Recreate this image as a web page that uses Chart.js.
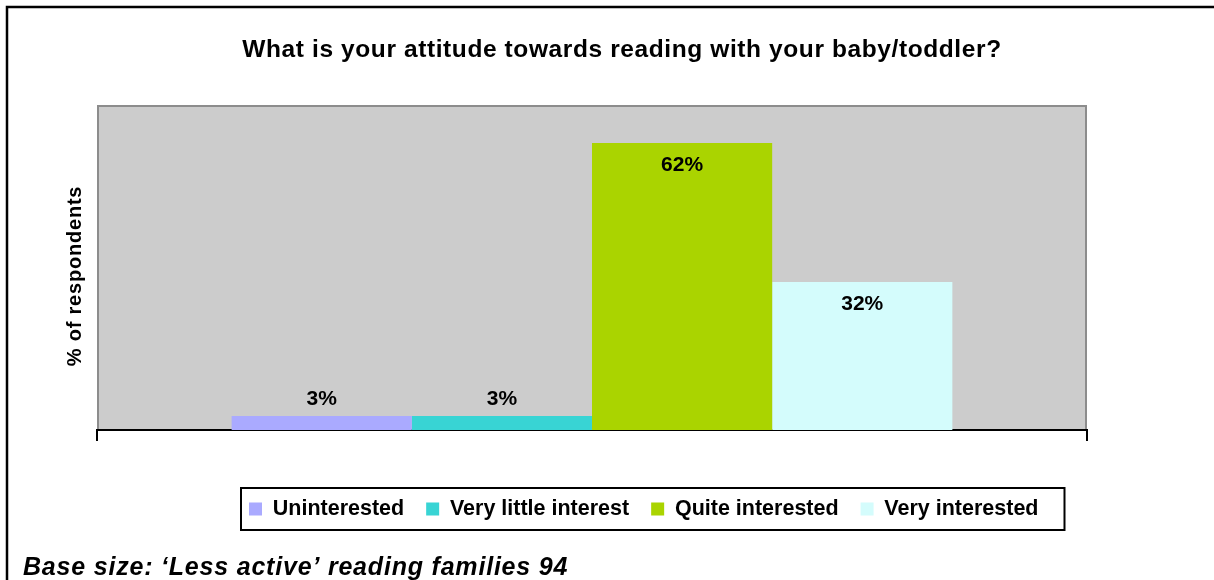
<!DOCTYPE html>
<html>
<head>
<meta charset="utf-8">
<script src="https://cdn.jsdelivr.net/npm/chart.js@4"></script>
<style>
  html, body { margin: 0; padding: 0; background: #ffffff; }
  canvas { display: block; }
</style>
</head>
<body>
<canvas id="chart" width="1214" height="580"></canvas>
<script>
// Survey answers, one bar per answer
const categories = [''];
const seriesNames = ['Uninterested', 'Very little interest', 'Quite interested', 'Very interested'];
const seriesValues = [[3], [3], [62], [32]];
const seriesColors = ['#aaaaff', '#38d4d4', '#aad400', '#d4fcfc'];
const titleText = 'What is your attitude towards reading with your baby/toddler?';
const yAxisTitle = '% of respondents';
const captionText = 'Base size: \u2018Less active\u2019 reading families 94';
const yMax = 70;

const FONT = '"Liberation Sans", Arial, Helvetica, sans-serif';

// Run a drawing method with extra letter tracking and an optional nudge
function withSpacing(obj, method, spacing, dx = 0, dy = 0) {
  if (!obj || obj['__spaced_' + method]) return;
  const orig = obj[method];
  obj[method] = function (...args) {
    const ctx = this.ctx;
    ctx.save();
    ctx.letterSpacing = spacing;
    ctx.translate(dx, dy);
    const r = orig.apply(this, args);
    ctx.restore();
    return r;
  };
  obj['__spaced_' + method] = true;
}

// Outer frame and grey plot area
const framePlugin = {
  id: 'frame',
  beforeDraw(chart) {
    const { ctx, chartArea: a, width, height } = chart;
    ctx.save();
    ctx.strokeStyle = '#000000';
    ctx.lineWidth = 2.5;
    ctx.beginPath();
    ctx.moveTo(7, height);
    ctx.lineTo(7, 7);
    ctx.lineTo(width, 7);
    ctx.stroke();

    ctx.fillStyle = '#cccccc';
    ctx.fillRect(a.left, a.top, a.right - a.left, a.bottom - a.top);
    ctx.strokeStyle = '#8c8c8c';
    ctx.lineWidth = 2;
    ctx.beginPath();
    ctx.moveTo(a.left + 1, a.bottom);
    ctx.lineTo(a.left + 1, a.top);
    ctx.lineTo(a.right - 1, a.top);
    ctx.lineTo(a.right - 1, a.bottom);
    ctx.stroke();
    ctx.restore();
  }
};

// Legend placement and its boxed outline
const legendPlugin = {
  id: 'legendPlacement',
  afterLayout(chart) {
    const lg = chart.legend;
    const pad = lg.options.labels.padding;
    lg.left = 249 - pad;
    withSpacing(chart.scales.y, 'drawTitle', '0.8px', 0, 8);
  },
  afterDraw(chart) {
    const hb = chart.legend.legendHitBoxes;
    if (!hb || !hb.length) return;
    const first = hb[0];
    const last = hb[hb.length - 1];
    const cy = first.top + first.height / 2;
    const ctx = chart.ctx;
    ctx.save();
    ctx.strokeStyle = '#000000';
    ctx.lineWidth = 2;
    ctx.strokeRect(first.left - 8, cy - 21, (last.left + last.width + 26) - (first.left - 8), 42);
    ctx.restore();
  }
};

// Percentage labels on each bar
const valueLabels = {
  id: 'valueLabels',
  afterDatasetsDraw(chart) {
    const ctx = chart.ctx;
    ctx.save();
    ctx.font = `bold 21px ${FONT}`;
    ctx.fillStyle = '#000000';
    ctx.textAlign = 'center';
    ctx.textBaseline = 'middle';
    chart.data.datasets.forEach((ds, i) => {
      const meta = chart.getDatasetMeta(i);
      meta.data.forEach((bar, j) => {
        const v = ds.data[j];
        const y = v > 10 ? bar.y + 22 : bar.y - 17;
        ctx.fillText(v + '%', bar.x, y);
      });
    });
    ctx.restore();
  }
};

// Heading and base-size note
const headings = {
  id: 'headings',
  afterDraw(chart) {
    const ctx = chart.ctx;
    ctx.save();
    ctx.fillStyle = '#000000';
    ctx.textBaseline = 'alphabetic';
    ctx.font = `bold 24.5px ${FONT}`;
    ctx.letterSpacing = '0.6px';
    ctx.textAlign = 'center';
    ctx.fillText(titleText, 622, 57);
    ctx.font = `italic bold 25px ${FONT}`;
    ctx.letterSpacing = '0.8px';
    ctx.textAlign = 'left';
    ctx.fillText(captionText, 23, 575);
    ctx.restore();
  }
};

new Chart(document.getElementById('chart'), {
  type: 'bar',
  data: {
    labels: categories,
    datasets: seriesNames.map((name, i) => ({
      label: name,
      data: seriesValues[i],
      backgroundColor: seriesColors[i],
      borderWidth: 0,
      categoryPercentage: 0.728,
      barPercentage: 1
    }))
  },
  options: {
    responsive: false,
    animation: false,
    events: [],
    layout: { padding: { left: 23, right: 127, top: 106, bottom: 50.25 } },
    plugins: {
      title: { display: false },
      tooltip: { enabled: false },
      legend: {
        position: 'bottom',
        align: 'start',
        labels: {
          boxWidth: 13,
          boxHeight: 13,
          padding: 22,
          color: '#000000',
          font: { family: FONT, size: 21.5, weight: 'bold' }
        }
      }
    },
    scales: {
      x: {
        type: 'category',
        offset: true,
        grid: {
          display: true,
          offset: true,
          drawOnChartArea: false,
          drawTicks: true,
          tickLength: 11,
          color: '#000000',
          lineWidth: 2
        },
        border: { display: true, color: '#000000', width: 2 },
        ticks: { display: false },
        afterFit(scale) { scale.height = 46.25; }
      },
      y: {
        min: 0,
        max: yMax,
        ticks: { display: false },
        grid: { display: false },
        border: { display: false },
        title: {
          display: true,
          text: yAxisTitle,
          color: '#000000',
          font: { family: FONT, size: 20, weight: 'bold' },
          padding: { top: 40, bottom: 0 }
        },
        afterFit(scale) { scale.width = 74; }
      }
    }
  },
  plugins: [framePlugin, legendPlugin, valueLabels, headings]
});
</script>
</body>
</html>
